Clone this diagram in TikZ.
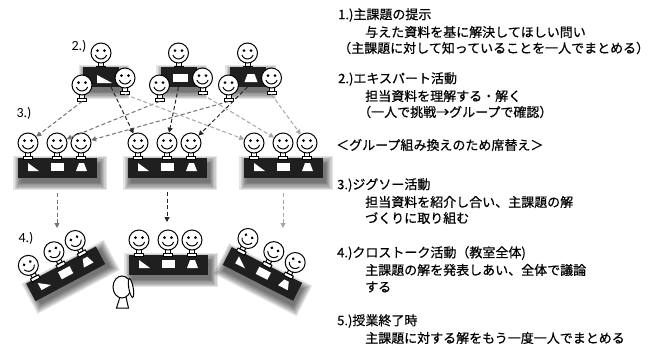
\documentclass[tikz,border=0pt]{standalone}
\usepackage{fontspec}
\newfontfamily\jpfont[FakeBold=0.5]{Noto Sans CJK JP}
\newfontfamily\labfont{Carlito}
\usetikzlibrary{arrows.meta,calc,shapes.geometric}

\tikzset{
  ink/.style={line width=1pt, draw=black},
  headnode/.style={circle, draw=black, line width=1pt, fill=white,
    minimum size=20pt, inner sep=0pt},
  teacherhead/.style={ellipse, draw=black, line width=1pt, fill=white,
    minimum width=18pt, minimum height=22pt, inner sep=0pt},
  deskfill/.style={fill=black!88},
  shade/.style={fill=black, opacity=0.1},
  icon/.style={fill=white},
  flow/.style={line width=1pt, dash pattern=on 4pt off 2.5pt,
    -{Triangle[length=5pt,width=5pt]}},
  flowdark/.style={flow, draw=black!85},
  flowmid/.style={flow, draw=black!55},
  flowlight/.style={flow, draw=black!35},
  txt/.style={font=\jpfont\fontsize{13}{16}\selectfont, anchor=west, inner sep=0pt},
  lab/.style={font=\labfont\fontsize{14}{16}\selectfont, inner sep=0pt},
}

% one seated student: head node #1 with face, neck and base below it
\newcommand\smiley[1]{%
  \filldraw[ink, fill=white] (-2.5,9.5) rectangle (2.5,13);
  \filldraw[ink, fill=white] (-4.5,13) rectangle (4.5,16.5);
  \node[headnode] (#1) at (0,0) {};
  \fill (-3.5,-2.5) circle[radius=1.5];
  \fill (3.5,-2.5) circle[radius=1.5];
  \draw[ink] (20:6) arc[start angle=20, end angle=160, radius=6];
  \coordinate (#1-bot) at (0,16.5);
}

% soft shadow of a desk spanning x from #1 to #2, 20 high
\newcommand\deskshadow[2]{%
  \foreach \k in {0,...,6}
    \fill[shade] ({#1+3-1.2*\k},{5-1.2*\k}) rectangle ({#2+3+1.2*\k},{25+1.2*\k});
}

% long desk of a jigsaw group, three students #1a, #1b, #1c behind it
\newcommand\jigsaw[1]{%
  \deskshadow{-39.5}{39.5}
  \fill[deskfill] (-39.5,0) rectangle (39.5,20);
  \fill[icon] (-29,5) -- (-29,13) -- (-18,13) -- cycle;
  \fill[icon] (-6,5) rectangle (7,13);
  \fill[icon] (19,13) -- (30,13) -- (27,5) -- (22,5) -- cycle;
  \begin{scope}[shift={(-29,-15)}]\smiley{#1a}\end{scope}
  \begin{scope}[shift={(0,-15)}]\smiley{#1b}\end{scope}
  \begin{scope}[shift={(24,-15)}]\smiley{#1c}\end{scope}
  \coordinate (#1-out) at (0,20);
}

% small desk of an expert group: #1 name, #2 icon on the desk
\newcommand\expert[2]{%
  \begin{scope}[shift={(0,-14)}]\smiley{#1t}\end{scope}
  \deskshadow{-18}{18}
  \fill[deskfill] (-18,0) rectangle (18,20);
  #2
  \begin{scope}[shift={(-19,18)}]\smiley{#1l}\end{scope}
  \begin{scope}[shift={(24,11)}]\smiley{#1r}\end{scope}
  \coordinate (#1-out) at (0,20);
}

\begin{document}
\begin{tikzpicture}[x=1pt, y=-1pt]
\useasboundingbox (0,0) rectangle (659,349);
\fill[white] (0,0) rectangle (659,349);

% expert groups
\begin{scope}[shift={(101,67)}]
  \expert{g1}{\fill[icon] (-4,8) -- (-4,16) -- (11,16) -- cycle;}
\end{scope}
\begin{scope}[shift={(178.5,67)}]
  \expert{g2}{\fill[icon] (-5.5,6.5) rectangle (9.5,15);}
\end{scope}
\begin{scope}[shift={(247.5,67)}]
  \expert{g3}{\fill[icon] (-3,15) -- (10,15) -- (7,7) -- (0,7) -- cycle;}
\end{scope}

% jigsaw groups
\begin{scope}[shift={(57,158)}]\jigsaw{A}\end{scope}
\begin{scope}[shift={(167,158)}]\jigsaw{B}\end{scope}
\begin{scope}[shift={(283,158)}]\jigsaw{C}\end{scope}

% cross talk: the desks turned towards the room
\begin{scope}[shift={(61,265)}, rotate=28]\jigsaw{D}\end{scope}
\begin{scope}[shift={(168,255)}]\jigsaw{E}\end{scope}
\begin{scope}[shift={(267,265)}, rotate=-27]\jigsaw{F}\end{scope}

% teacher
\filldraw[ink, fill=white] (120,297) -- (126,297) -- (128.5,308) -- (116.5,308) -- cycle;
\node[teacherhead] (teacher) at (122,287) {};
\filldraw[ink, fill=white, rotate around={10:(131,288)}] (131,288) ellipse[x radius=2.2, y radius=9.5];

% regrouping of the experts
\draw[flowmid] (g1l-bot) -- (Aa);
\draw[flowmid] (g2l-bot) -- (Ab);
\draw[flowmid] (g3l-bot) -- (Ac);
\draw[flowdark] ($(g1-out)+(10,0)$) -- (Ba);
\draw[flowdark] (g2-out) -- (Bb);
\draw[flowdark] (g3-out) -- (Bc);
\draw[flowlight] (g1r-bot) -- (Ca);
\draw[flowlight] (g2r-bot) -- (Cb);
\draw[flowlight] (g3r-bot) -- (Cc);

% from jigsaw to cross talk
\coordinate (A-in) at (57,228);
\coordinate (B-in) at (167,222);
\coordinate (C-in) at (283,228);
\draw[flowmid, shorten <=15pt] (A-out) -- (A-in);
\draw[flowdark, shorten <=14pt] (B-out) -- (B-in);
\draw[flowlight, shorten <=15pt] (C-out) -- (C-in);

% phase labels
\node[lab] (l2) at (79,46) {2.)};
\node[lab] (l3) at (24,113) {3.)};
\node[lab] (l4) at (26,238) {4.)};

% lesson steps
\node[txt] (t1)  at (338,15)  {1.)主課題の提示};
\node[txt] (t2)  at (365,32)  {与えた資料を基に解決してほしい問い};
\node[txt] (t3)  at (338,48)  {（主課題に対して知っていることを一人でまとめる）};
\node[txt] (t4)  at (338,79)  {2.)エキスパート活動};
\node[txt] (t5)  at (365,96)  {担当資料を理解する・解く};
\node[txt] (t6)  at (358,112) {（一人で挑戦→グループで確認）};
\node[txt] (t7)  at (336,145) {＜グループ組み換えのため席替え＞};
\node[txt] (t8)  at (337,185) {3.)ジグソー活動};
\node[txt] (t9)  at (365,202) {担当資料を紹介し合い、主課題の解};
\node[txt] (t10) at (365,218) {づくりに取り組む};
\node[txt] (t11) at (337,253) {4.)クロストーク活動（教室全体)};
\node[txt] (t12) at (365,270) {主課題の解を発表しあい、全体で議論};
\node[txt] (t13) at (365,287) {する};
\node[txt] (t14) at (337,321) {5.)授業終了時};
\node[txt] (t15) at (365,338) {主課題に対する解をもう一度一人でまとめる};
\end{tikzpicture}
\end{document}
